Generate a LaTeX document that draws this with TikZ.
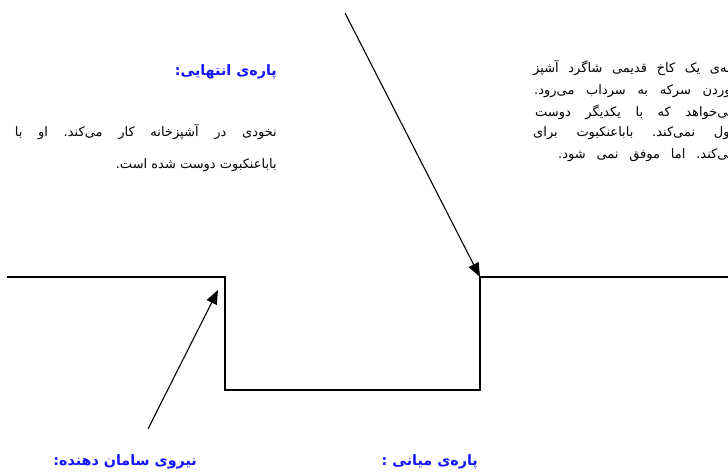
\documentclass[tikz,border=0pt]{standalone}
\usepackage{fontspec}
\usetikzlibrary{arrows.meta}
\TeXXeTstate=1
\frenchspacing
\newfontfamily\arabicfont[Script=Arabic]{DejaVu Sans}
\definecolor{headblue}{RGB}{20,20,255}
\tikzset{
  body/.style={inner sep=0pt, font=\arabicfont\fontsize{13}{15}\selectfont, text=black},
  head/.style={inner sep=0pt, font=\arabicfont\bfseries\fontsize{14.3}{16}\selectfont, text=headblue},
  stepline/.style={line width=1.6pt, line cap=rect},
  pointer/.style={line width=1.1pt, -{Triangle[length=14pt,width=11pt]}}
}
\begin{document}
\begin{tikzpicture}[x=1pt,y=-1pt]
\useasboundingbox (0,0) rectangle (728,472);
\clip (0,0) rectangle (728,472);
% step path
\coordinate (s1) at (8,277);
\coordinate (s2) at (225,277);
\coordinate (s3) at (225,390);
\coordinate (s4) at (480,390);
\coordinate (s5) at (480,277);
\coordinate (s6) at (730,277);
\draw[stepline] (s1) -- (s2) -- (s3) -- (s4) -- (s5) -- (s6);
% arrows
\coordinate (a1s) at (345,13);
\coordinate (a1e) at (480,277);
\draw[pointer] (a1s) -- (a1e);
\coordinate (a2s) at (148,429);
\coordinate (a2e) at (218,290);
\draw[pointer] (a2s) -- (a2e);
% left text
\node[head, anchor=east] (h1) at (277,72) {\beginR پاره‌ی انتهایی:\endR};
\node[body, anchor=east] (l1) at (277,132) {\makebox[262pt][s]{\beginR نخودی در آشپزخانه کار می‌کند. او با\endR}};
\node[body, anchor=east] (l2) at (277,165) {\beginR باباعنکبوت دوست شده است.\endR};
% right text (clipped at the edge, as in the reference)
\node[body, anchor=west] (r1) at (533,68) {\makebox[235pt][s]{\beginR آشپزخانه‌ی یک کاخ قدیمی شاگرد آشپز\endR}};
\node[body, anchor=west] (r2) at (534,90) {\makebox[200pt][s]{\beginR آوردن سرکه به سرداب می‌رود.\endR}};
\node[body, anchor=west] (r3) at (535,112) {\makebox[200pt][s]{\beginR می‌خواهد که با یکدیگر دوست\endR}};
\node[body, anchor=west] (r4) at (533,133) {\makebox[207pt][s]{\beginR قبول نمی‌کند. باباعنکبوت برای\endR}};
\node[body, anchor=west] (r5) at (558,155) {\makebox[177pt][s]{\beginR می‌کند. اما موفق نمی شود.\endR}};
% bottom headings
\node[head, anchor=east] (h2) at (197,462) {\beginR نیروی سامان دهنده:\endR};
\node[head, anchor=east] (h3) at (478,462) {\beginR پاره‌ی میانی :\endR};
\end{tikzpicture}
\end{document}
